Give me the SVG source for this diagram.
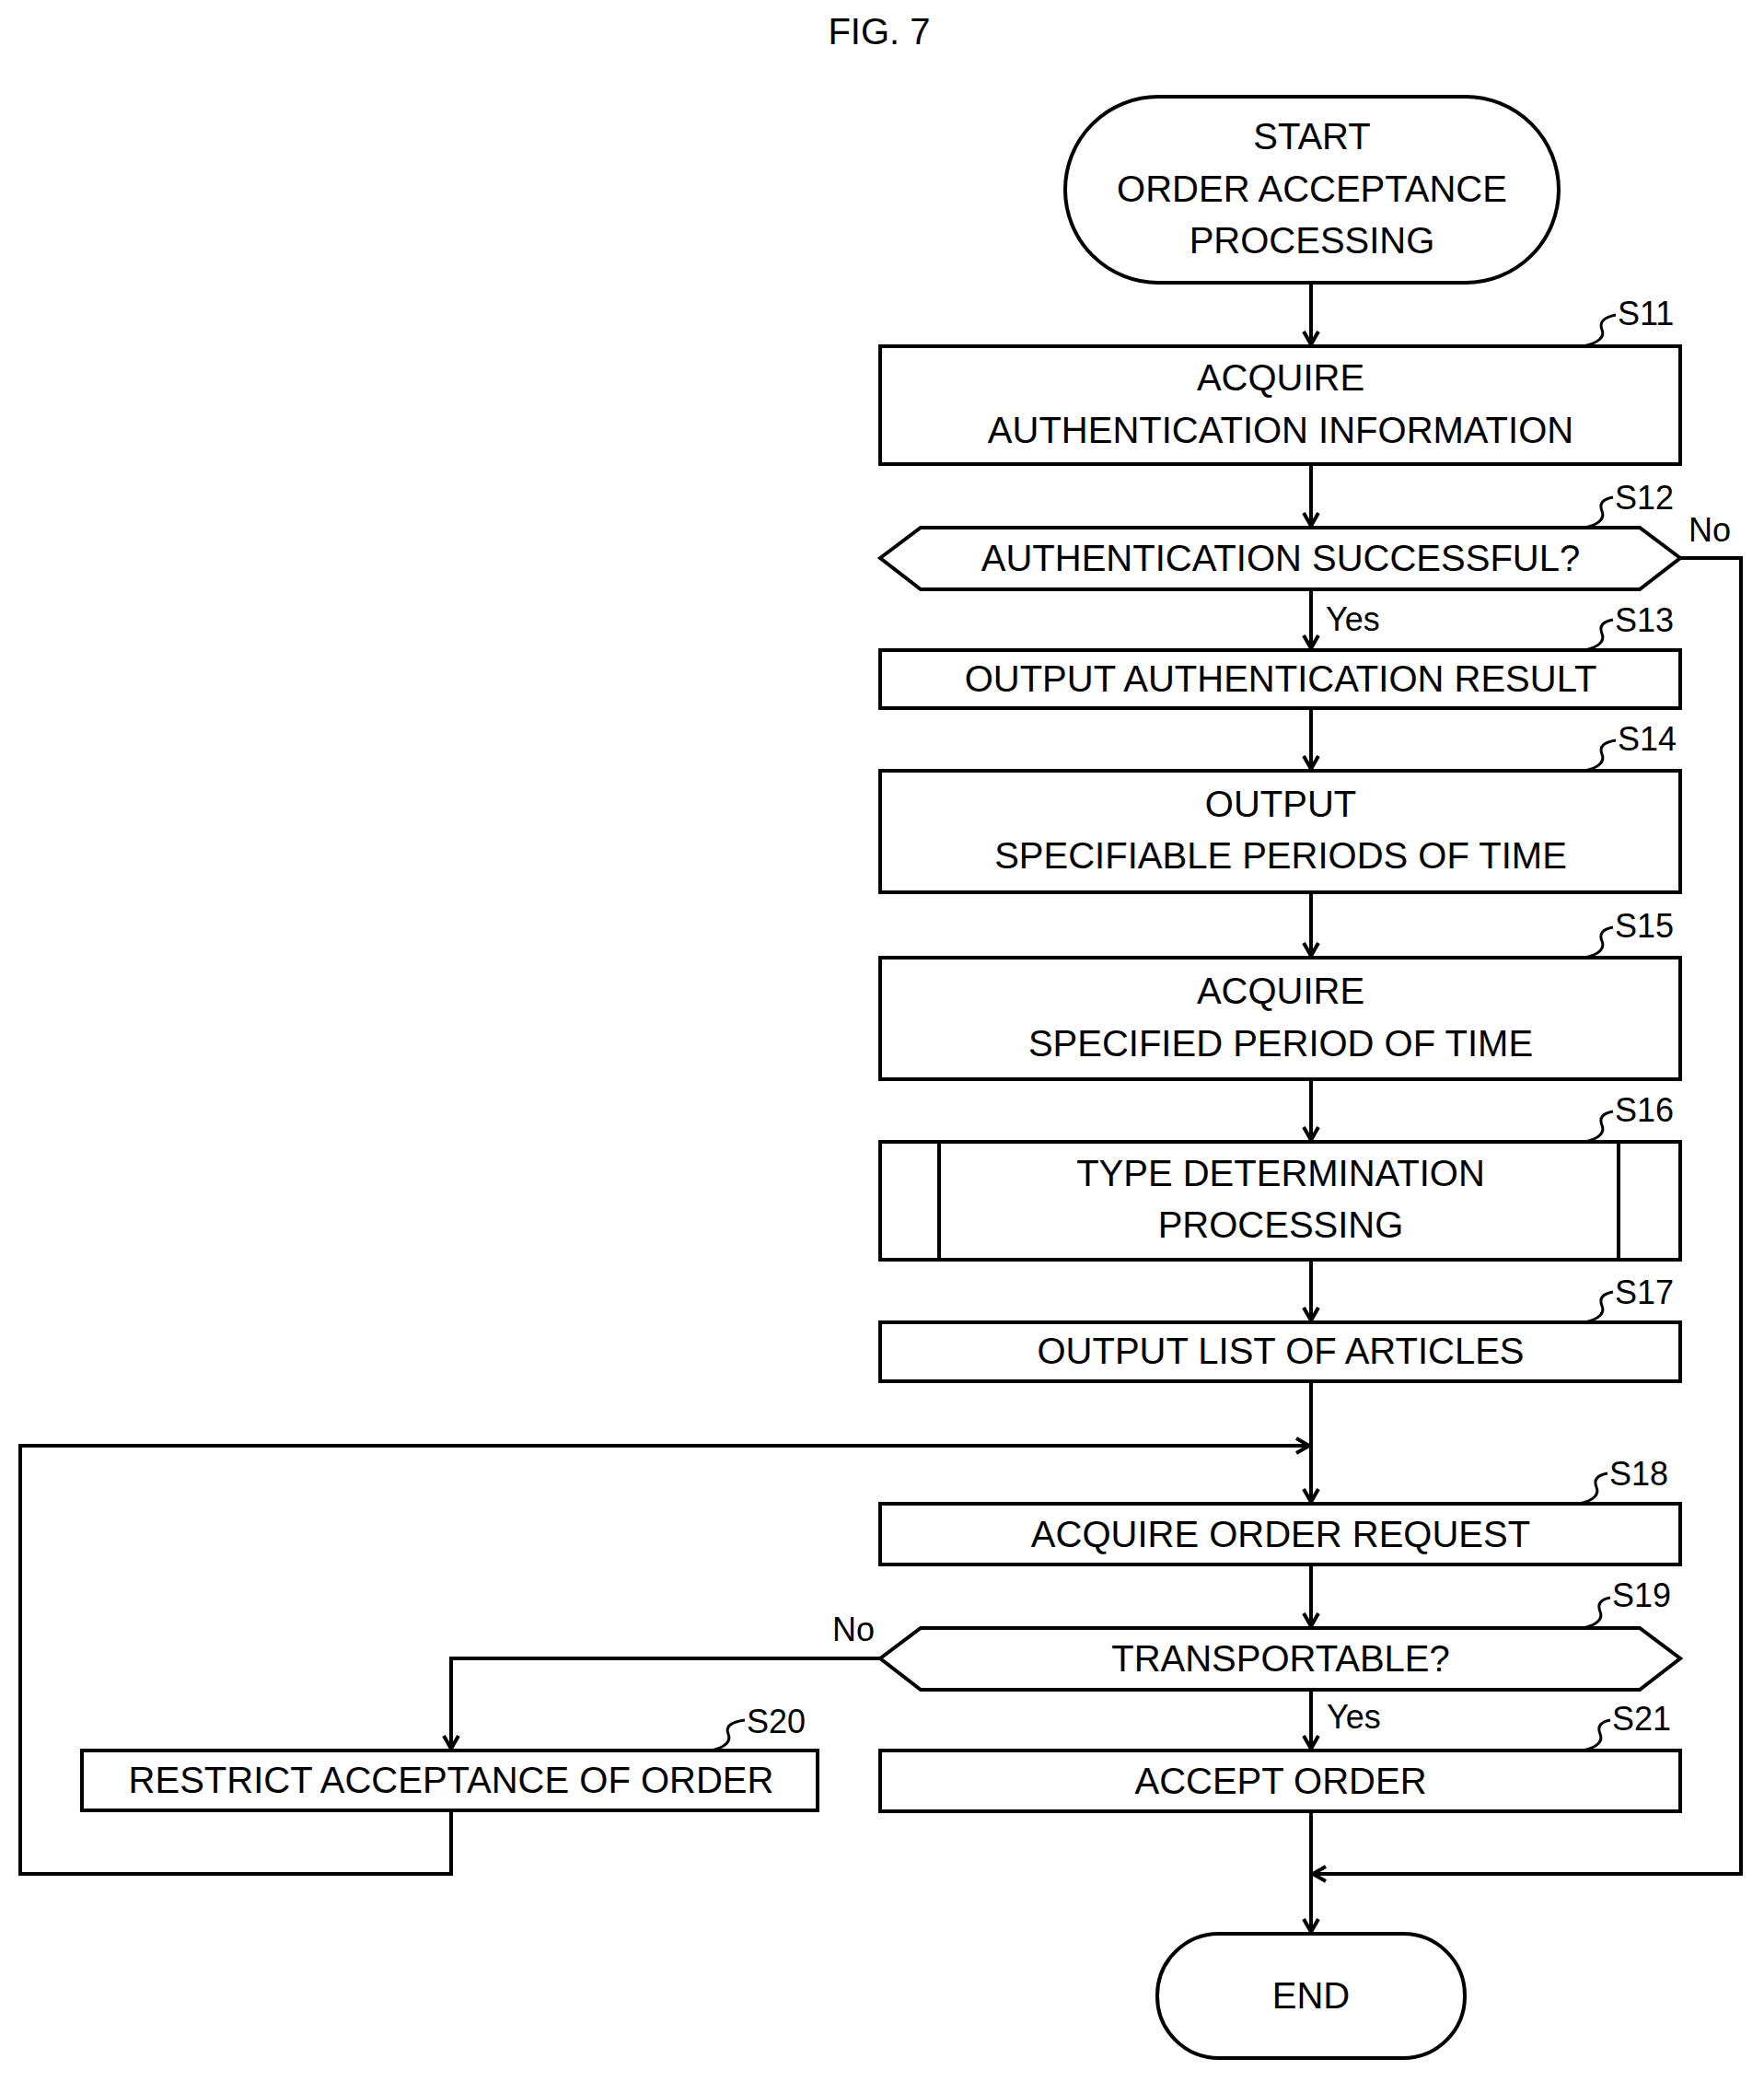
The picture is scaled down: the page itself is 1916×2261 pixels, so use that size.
<svg xmlns="http://www.w3.org/2000/svg" width="1916" height="2261" viewBox="0 0 1916 2261">
<style>
.b{fill:#fff;stroke:#000;stroke-width:4}
.t{font-family:"Liberation Sans",Arial,sans-serif;font-size:40px;text-anchor:middle;fill:#000}
.l{font-family:"Liberation Sans",Arial,sans-serif;font-size:36px;fill:#000}
.c{fill:none;stroke:#000;stroke-width:4}
.s{fill:none;stroke:#000;stroke-width:3}
</style>
<defs><marker id="a" markerWidth="20" markerHeight="20" refX="16" refY="10" orient="auto" markerUnits="userSpaceOnUse"><polyline points="2,2 16,10 2,18" fill="none" stroke="#000" stroke-width="4"/></marker></defs>
<rect width="1916" height="2261" fill="#fff"/>
<text class="t" x="955" y="48" font-size="36">FIG. 7</text>
<g id="connectors">
<line class="c" x1="1424" y1="307" x2="1424" y2="374" marker-end="url(#a)"/>
<line class="c" x1="1424" y1="504" x2="1424" y2="571" marker-end="url(#a)"/>
<line class="c" x1="1424" y1="640" x2="1424" y2="704" marker-end="url(#a)"/>
<line class="c" x1="1424" y1="769" x2="1424" y2="835" marker-end="url(#a)"/>
<line class="c" x1="1424" y1="969" x2="1424" y2="1038" marker-end="url(#a)"/>
<line class="c" x1="1424" y1="1172" x2="1424" y2="1238" marker-end="url(#a)"/>
<line class="c" x1="1424" y1="1368" x2="1424" y2="1434" marker-end="url(#a)"/>
<line class="c" x1="1424" y1="1500" x2="1424" y2="1631" marker-end="url(#a)"/>
<line class="c" x1="1424" y1="1699" x2="1424" y2="1766" marker-end="url(#a)"/>
<line class="c" x1="1424" y1="1835" x2="1424" y2="1899" marker-end="url(#a)"/>
<line class="c" x1="1424" y1="1967" x2="1424" y2="2098" marker-end="url(#a)"/>
<polyline class="c" points="1825,606 1891,606 1891,2035 1426,2035" marker-end="url(#a)"/>
<polyline class="c" points="956,1801 490,1801 490,1899" marker-end="url(#a)"/>
<polyline class="c" points="490,1966 490,2035 22,2035 22,1570 1422,1570" marker-end="url(#a)"/>
<text class="l" x="1834" y="588">No</text>
<text class="l" x="1440" y="685">Yes</text>
<text class="l" x="904" y="1782">No</text>
<text class="l" x="1441" y="1877">Yes</text>
</g>
<g id="start"><rect class="b" x="1157" y="105" width="536" height="202" rx="101"/>
<text class="t" x="1425" y="162">START</text><text class="t" x="1425" y="219">ORDER ACCEPTANCE</text><text class="t" x="1425" y="275">PROCESSING</text></g>
<g id="S11"><rect class="b" x="956" y="376" width="869" height="128"/>
<text class="t" x="1391" y="424">ACQUIRE</text><text class="t" x="1391" y="481">AUTHENTICATION INFORMATION</text>
<path class="s" d="M1720,376 Q1745,370 1740,358 Q1735,346 1755,342"/><text class="l" x="1757" y="353">S11</text></g>
<g id="S12"><polygon class="b" points="956,606 1000,573 1781,573 1825,606 1781,640 1000,640"/>
<text class="t" x="1391" y="620">AUTHENTICATION SUCCESSFUL?</text>
<path class="s" d="M1722,573 Q1745,567 1740,555 Q1735,543 1752,540"/><text class="l" x="1754" y="553">S12</text></g>
<g id="S13"><rect class="b" x="956" y="706" width="869" height="63"/>
<text class="t" x="1391" y="751">OUTPUT AUTHENTICATION RESULT</text>
<path class="s" d="M1722,706 Q1745,700 1740,688 Q1735,676 1752,673"/><text class="l" x="1754" y="686">S13</text></g>
<g id="S14"><rect class="b" x="956" y="837" width="869" height="132"/>
<text class="t" x="1391" y="887">OUTPUT</text><text class="t" x="1391" y="943">SPECIFIABLE PERIODS OF TIME</text>
<path class="s" d="M1722,837 Q1745,831 1740,819 Q1735,807 1755,804"/><text class="l" x="1757" y="815">S14</text></g>
<g id="S15"><rect class="b" x="956" y="1040" width="869" height="132"/>
<text class="t" x="1391" y="1090">ACQUIRE</text><text class="t" x="1391" y="1147">SPECIFIED PERIOD OF TIME</text>
<path class="s" d="M1722,1040 Q1745,1034 1740,1022 Q1735,1010 1752,1007"/><text class="l" x="1754" y="1018">S15</text></g>
<g id="S16"><rect class="b" x="956" y="1240" width="869" height="128"/><line class="c" x1="1020" y1="1240" x2="1020" y2="1368"/><line class="c" x1="1758" y1="1240" x2="1758" y2="1368"/>
<text class="t" x="1391" y="1288">TYPE DETERMINATION</text><text class="t" x="1391" y="1344">PROCESSING</text>
<path class="s" d="M1722,1240 Q1745,1234 1740,1222 Q1735,1210 1752,1207"/><text class="l" x="1754" y="1218">S16</text></g>
<g id="S17"><rect class="b" x="956" y="1436" width="869" height="64"/>
<text class="t" x="1391" y="1481">OUTPUT LIST OF ARTICLES</text>
<path class="s" d="M1722,1436 Q1745,1430 1740,1418 Q1735,1406 1752,1403"/><text class="l" x="1754" y="1416">S17</text></g>
<g id="S18"><rect class="b" x="956" y="1633" width="869" height="66"/>
<text class="t" x="1391" y="1680">ACQUIRE ORDER REQUEST</text>
<path class="s" d="M1716,1633 Q1739,1627 1734,1615 Q1729,1603 1746,1600"/><text class="l" x="1748" y="1613">S18</text></g>
<g id="S19"><polygon class="b" points="956,1801 1000,1768 1781,1768 1825,1801 1781,1835 1000,1835"/>
<text class="t" x="1391" y="1815">TRANSPORTABLE?</text>
<path class="s" d="M1720,1768 Q1743,1762 1738,1750 Q1733,1738 1749,1735"/><text class="l" x="1751" y="1745">S19</text></g>
<g id="S20"><rect class="b" x="89" y="1901" width="799" height="65"/>
<text class="t" x="490" y="1947">RESTRICT ACCEPTANCE OF ORDER</text>
<path class="s" d="M773,1901 Q796,1895 791,1883 Q786,1871 809,1868"/><text class="l" x="811" y="1882">S20</text></g>
<g id="S21"><rect class="b" x="956" y="1901" width="869" height="66"/>
<text class="t" x="1391" y="1948">ACCEPT ORDER</text>
<path class="s" d="M1720,1901 Q1743,1895 1738,1883 Q1733,1871 1749,1868"/><text class="l" x="1751" y="1879">S21</text></g>
<g id="end"><rect class="b" x="1257" y="2100" width="334" height="135" rx="67"/>
<text class="t" x="1424" y="2181">END</text></g>
</svg>
